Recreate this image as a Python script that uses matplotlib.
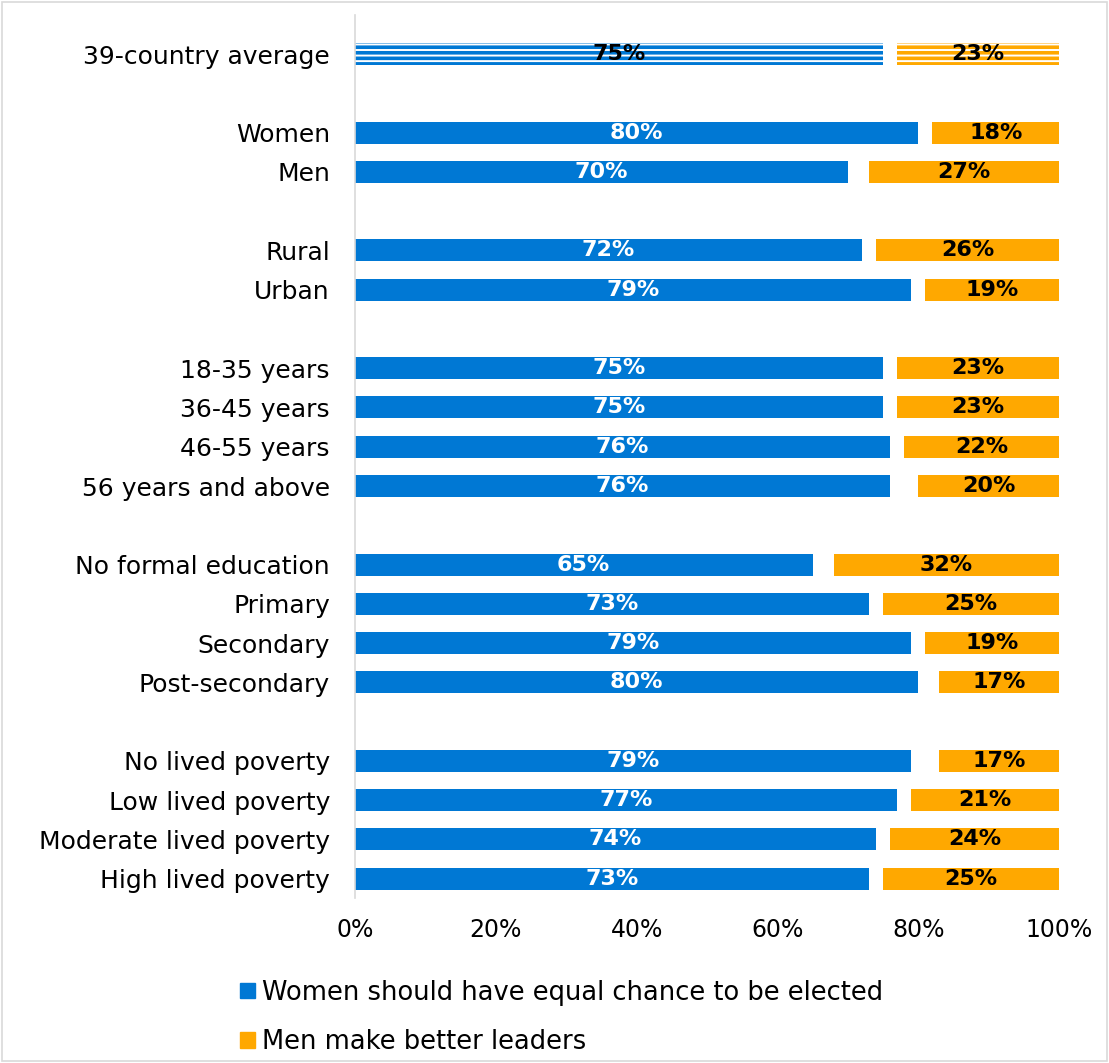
import numpy as np
import matplotlib.pyplot as plt
from matplotlib.patches import Patch

plt.rcParams['font.family'] = ['DejaVu Sans']
plt.rcParams['hatch.linewidth'] = 2.6

# datos
categorias = ["39-country average",
              "Women", "Men",
              "Rural", "Urban",
              "18-35 years", "36-45 years", "46-55 years", "56 years and above",
              "No formal education", "Primary", "Secondary", "Post-secondary",
              "No lived poverty", "Low lived poverty", "Moderate lived poverty", "High lived poverty"]
iguales = [75, 80, 70, 72, 79, 75, 75, 76, 76, 65, 73, 79, 80, 79, 77, 74, 73]
hombres = [23, 18, 27, 26, 19, 23, 23, 22, 20, 32, 25, 19, 17, 17, 21, 24, 25]
grupos = [1, 2, 2, 4, 4, 4]  # filas por grupo

# posiciones con una fila vacia entre grupos
pos = []
y = 0
for n in grupos:
    for i in range(n):
        pos.append(y)
        y += 1
    y += 1
pos = np.array(pos)

azul = "#0078D4"
naranja = "#FFA800"

fig = plt.figure(figsize=(11.09, 10.63), dpi=100)
ax = fig.add_axes([0.320, 0.155, 0.635, 0.831])

h = 0.56
for k in range(len(categorias)):
    izq = 100 - hombres[k]
    if k == 0:
        ax.barh(pos[k], iguales[k], height=h, color="white", edgecolor=azul,
                hatch="---", linewidth=0)
        ax.barh(pos[k], hombres[k], left=izq, height=h, color="white",
                edgecolor=naranja, hatch="---", linewidth=0)
        c1 = "black"
    else:
        ax.barh(pos[k], iguales[k], height=h, color=azul)
        ax.barh(pos[k], hombres[k], left=izq, height=h, color=naranja)
        c1 = "white"
    ax.text(iguales[k] / 2, pos[k], f"{iguales[k]}%", ha="center", va="center",
            color=c1, fontsize=16, fontweight="bold")
    ax.text(izq + hombres[k] / 2, pos[k], f"{hombres[k]}%", ha="center",
            va="center", color="black", fontsize=16, fontweight="bold")

ax.set_yticks(pos)
ax.set_yticklabels(categorias, fontsize=18)
ax.set_ylim(pos[-1] + 0.5, -1)
ax.set_xlim(0, 100)
ax.set_xticks(np.arange(0, 101, 20))
ax.set_xticklabels([f"{v}%" for v in range(0, 101, 20)], fontsize=17)
ax.tick_params(axis="y", length=0, pad=18)
ax.tick_params(axis="x", length=0, pad=14)
for s in ["top", "right", "bottom"]:
    ax.spines[s].set_visible(False)
ax.spines["left"].set_color("#D9D9D9")
ax.spines["left"].set_linewidth(1.2)

handles = [Patch(color=azul, label="Women should have equal chance to be elected"),
           Patch(color=naranja, label="Men make better leaders")]
fig.legend(handles=handles, loc="upper left", bbox_to_anchor=(0.196, 0.1),
           frameon=False, fontsize=18.5, handlelength=0.55, handleheight=0.55,
           handletextpad=0.3, labelspacing=0.9)

fig.patches.append(plt.Rectangle((0.002, 0.002), 0.996, 0.996, transform=fig.transFigure,
                                 fill=False, edgecolor="#D9D9D9", linewidth=1.2))

fig.savefig("out.png", dpi=100)
